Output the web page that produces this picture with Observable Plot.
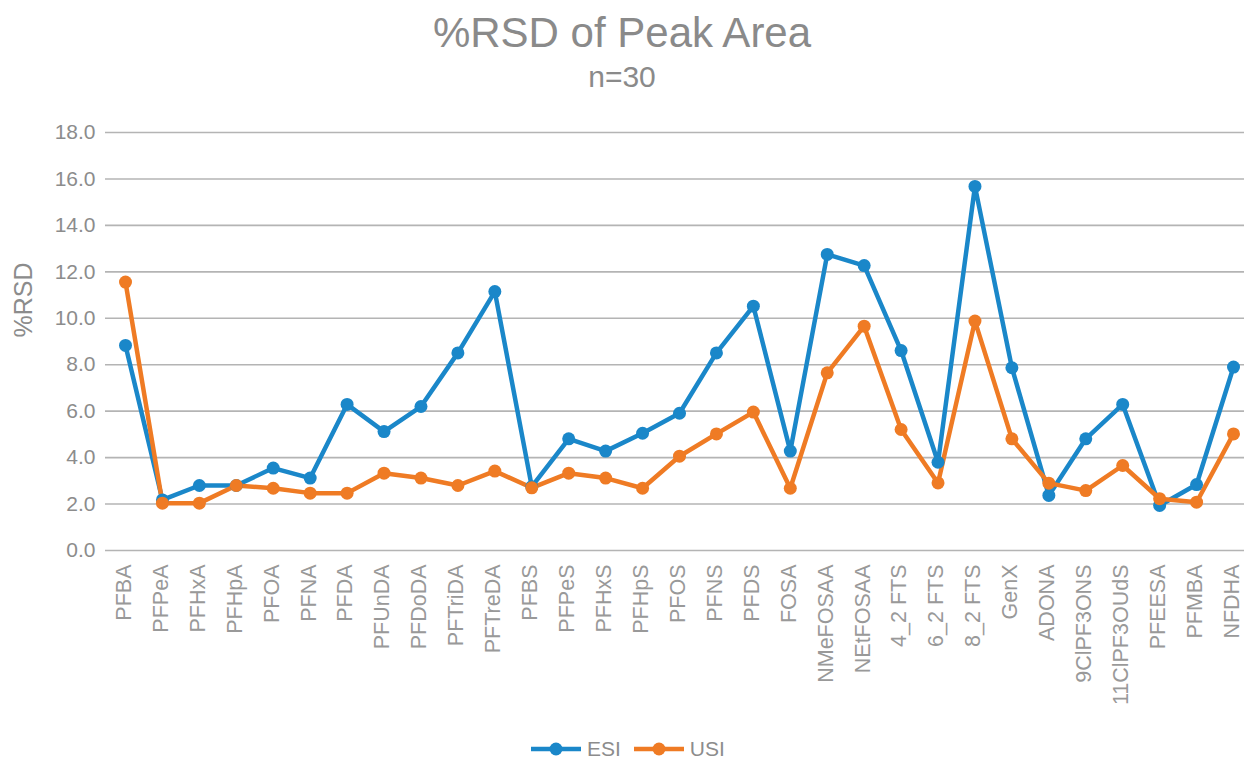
<!DOCTYPE html>
<html>
<head>
<meta charset="utf-8">
<script src="https://cdn.jsdelivr.net/npm/d3@7"></script>
<script src="https://cdn.jsdelivr.net/npm/@observablehq/plot@0.6"></script>
<style>
  html, body { margin: 0; padding: 0; background: #fff; }
  body { width: 1244px; height: 759px; position: relative; overflow: hidden;
         font-family: "Liberation Sans", Arial, sans-serif; color: #8c8c8c; }
  #title { position: absolute; top: 8px; left: 0; width: 1244px; text-align: center;
           font-size: 42px; line-height: 50px; color: #8a8a8a; }
  #subtitle { position: absolute; top: 60px; left: 0; width: 1244px; text-align: center;
              font-size: 30px; line-height: 34px; color: #8a8a8a; }
  #chart { position: absolute; top: 100px; left: 0; }
  #chart svg { max-width: none; }
  #legend { position: absolute; top: 737px; left: 530px; display: flex; align-items: center;
            font-size: 21px; color: #8c8c8c; }
  #legend .item { display: flex; align-items: center; margin-right: 12px; }
  #legend svg { margin-right: 5px; }
</style>
</head>
<body>
<div id="title">%RSD of Peak Area</div>
<div id="subtitle">n=30</div>
<div id="chart"></div>
<div id="legend"></div>
<script>
const categories = ["PFBA","PFPeA","PFHxA","PFHpA","PFOA","PFNA","PFDA","PFUnDA","PFDoDA","PFTriDA","PFTreDA","PFBS","PFPeS","PFHxS","PFHpS","PFOS","PFNS","PFDS","FOSA","NMeFOSAA","NEtFOSAA","4_2 FTS","6_2 FTS","8_2 FTS","GenX","ADONA","9ClPF3ONS","11ClPF3OUdS","PFEESA","PFMBA","NFDHA"];
const esi = [8.83,2.18,2.8,2.8,3.55,3.12,6.29,5.12,6.2,8.51,11.15,2.75,4.81,4.28,5.05,5.91,8.51,10.52,4.28,12.75,12.27,8.61,3.8,15.68,7.87,2.37,4.81,6.29,1.94,2.84,7.9];
const usi = [11.56,2.04,2.04,2.8,2.68,2.47,2.47,3.33,3.12,2.8,3.42,2.7,3.33,3.12,2.68,4.06,5.02,5.96,2.68,7.65,9.66,5.21,2.91,9.88,4.81,2.9,2.58,3.66,2.23,2.08,5.02];
const seriesNames = ["ESI","USI"];
const seriesColors = ["#1a87c9","#ef7b24"];
const yTicks = [0,2,4,6,8,10,12,14,16,18];

const rows = [];
categories.forEach((c, i) => {
  rows.push({cat: c, series: "ESI", value: esi[i]});
  rows.push({cat: c, series: "USI", value: usi[i]});
});

const plot = Plot.plot({
  width: 1244,
  height: 620,
  marginLeft: 105,
  marginRight: 0,
  marginTop: 32,
  marginBottom: 170,
  style: {fontFamily: "'Liberation Sans', Arial, sans-serif", color: "#8c8c8c", background: "transparent"},
  x: {type: "point", domain: categories, range: [125, 1233], padding: 0, round: false},
  y: {domain: [0, 18]},
  color: {domain: seriesNames, range: seriesColors},
  marks: [
    Plot.gridY(yTicks, {stroke: "#b4b4b4", strokeOpacity: 1, strokeWidth: 1.6}),
    Plot.axisY(yTicks, {tickSize: 0, tickPadding: 10, tickFormat: d => d.toFixed(1), fontSize: 21, fill: "#8c8c8c", label: null}),
    Plot.axisX({tickSize: 0, tickPadding: 14, tickRotate: -90, fontSize: 21.5, dx: -1.5, fill: "#999", label: null}),
    Plot.text(["%RSD"], {frameAnchor: "left", rotate: -90, dx: -82, dy: -4, fontSize: 25, fill: "#8c8c8c"}),
    Plot.line(rows, {x: "cat", y: "value", z: "series", stroke: "series", strokeWidth: 4.5}),
    Plot.dot(rows, {x: "cat", y: "value", fill: "series", r: 6.5, stroke: null})
  ]
});
document.getElementById("chart").appendChild(plot);

const legend = document.getElementById("legend");
seriesNames.forEach((name, i) => {
  const item = document.createElement("div");
  item.className = "item";
  const ns = "http://www.w3.org/2000/svg";
  const sw = document.createElementNS(ns, "svg");
  sw.setAttribute("width", 52); sw.setAttribute("height", 20);
  const ln = document.createElementNS(ns, "line");
  ln.setAttribute("x1", 1); ln.setAttribute("x2", 51); ln.setAttribute("y1", 10); ln.setAttribute("y2", 10);
  ln.setAttribute("stroke", seriesColors[i]); ln.setAttribute("stroke-width", 4.5);
  const c = document.createElementNS(ns, "circle");
  c.setAttribute("cx", 26); c.setAttribute("cy", 10); c.setAttribute("r", 6.5); c.setAttribute("fill", seriesColors[i]);
  sw.appendChild(ln); sw.appendChild(c);
  const t = document.createElement("span");
  t.textContent = name;
  item.appendChild(sw); item.appendChild(t);
  legend.appendChild(item);
});
</script>
</body>
</html>
